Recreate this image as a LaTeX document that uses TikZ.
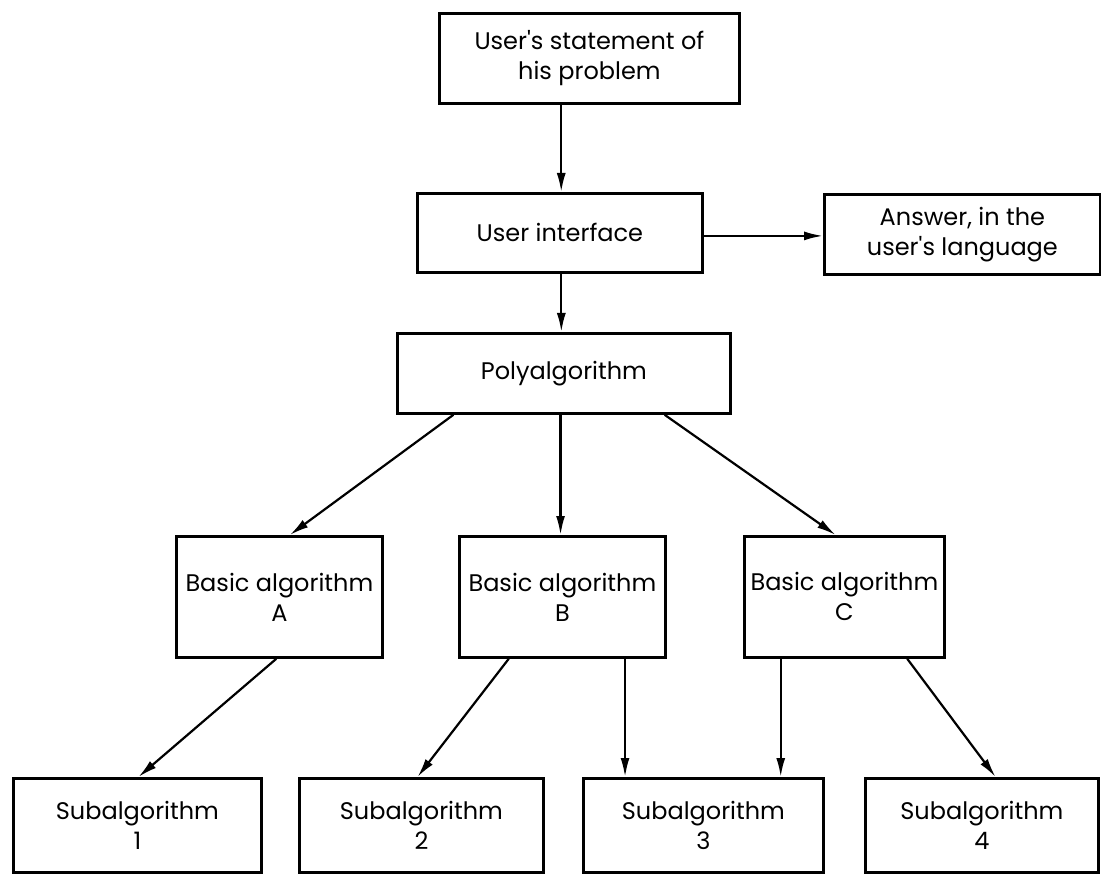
\documentclass[tikz,border=0pt]{standalone}
\usepackage{fontspec}
\setmainfont{Poppins}
\usetikzlibrary{arrows.meta,calc}
\begin{document}
\begin{tikzpicture}[x=1pt,y=-1pt,
  box/.style={draw=black,line width=2.8pt,inner sep=0pt,align=center,anchor=north west,
    font=\fontsize{24}{30}\selectfont},
  arr/.style={line width=2.2pt,-{Latex[length=19pt,width=9pt]}}]
\useasboundingbox (0,0) rectangle (1101,874);
% boxes
\node[box,minimum width=300pt,minimum height=90pt] (top) at (438,12) {User\textquotesingle s statement of\\his problem};
\node[box,minimum width=285pt,minimum height=79pt] (ui) at (416,192) {User interface};
\node[box,minimum width=276pt,minimum height=80pt] (ans) at (823,193) {Answer, in the\\user\textquotesingle s language};
\node[box,minimum width=333pt,minimum height=80pt] (poly) at (396,332) {Polyalgorithm};
\node[box,minimum width=206pt,minimum height=121pt] (A) at (175,535) {Basic algorithm\\A};
\node[box,minimum width=206pt,minimum height=121pt] (B) at (458,535) {Basic algorithm\\B};
\node[box,minimum width=200pt,minimum height=121pt] (C) at (743,535) {Basic algorithm\\C};
\node[box,minimum width=248pt,minimum height=94pt] (S1) at (12,777) {Subalgorithm\\1};
\node[box,minimum width=244pt,minimum height=94pt] (S2) at (298,777) {Subalgorithm\\2};
\node[box,minimum width=240pt,minimum height=94pt] (S3) at (582,777) {Subalgorithm\\3};
\node[box,minimum width=233pt,minimum height=94pt] (S4) at (864,777) {Subalgorithm\\4};
% attachment points
\coordinate (tx) at ($(top.south west)!0.407!(top.south east)$);
\coordinate (ux) at ($(ui.south west)!0.505!(ui.south east)$);
\coordinate (pA) at ($(poly.south west)!0.171!(poly.south east)$);
\coordinate (pB) at ($(poly.south west)!0.49!(poly.south east)$);
\coordinate (pC) at ($(poly.south west)!0.80!(poly.south east)$);
\coordinate (aS) at ($(A.south west)!0.485!(A.south east)$);
\coordinate (bS2) at ($(B.south west)!0.243!(B.south east)$);
\coordinate (bS3) at ($(B.south west)!0.80!(B.south east)$);
\coordinate (cS3) at ($(C.south west)!0.186!(C.south east)$);
\coordinate (cS4) at ($(C.south west)!0.81!(C.south east)$);
\coordinate (uie) at ($(ui.east)+(0,3)$);
% connectors
\draw[arr] (tx) -- (tx |- ui.north);
\draw[arr] (ux) -- (ux |- poly.north);
\draw[arr] (uie) -- (uie -| ans.west);
\draw[arr] (pA) -- ($(A.north west)!0.55!(A.north east)$);
\draw[arr] (pB) -- (pB |- B.north);
\draw[arr] (pC) -- ($(C.north west)!0.457!(C.north east)$);
\draw[arr] (aS) -- ($(S1.north west)!0.504!(S1.north east)$);
\draw[arr] (bS2) -- ($(S2.north west)!0.484!(S2.north east)$);
\draw[arr] (bS3) -- (bS3 |- S3.north);
\draw[arr] (cS3) -- (cS3 |- S3.north);
\draw[arr] (cS4) -- ($(S4.north west)!0.558!(S4.north east)$);
\end{tikzpicture}
\end{document}
